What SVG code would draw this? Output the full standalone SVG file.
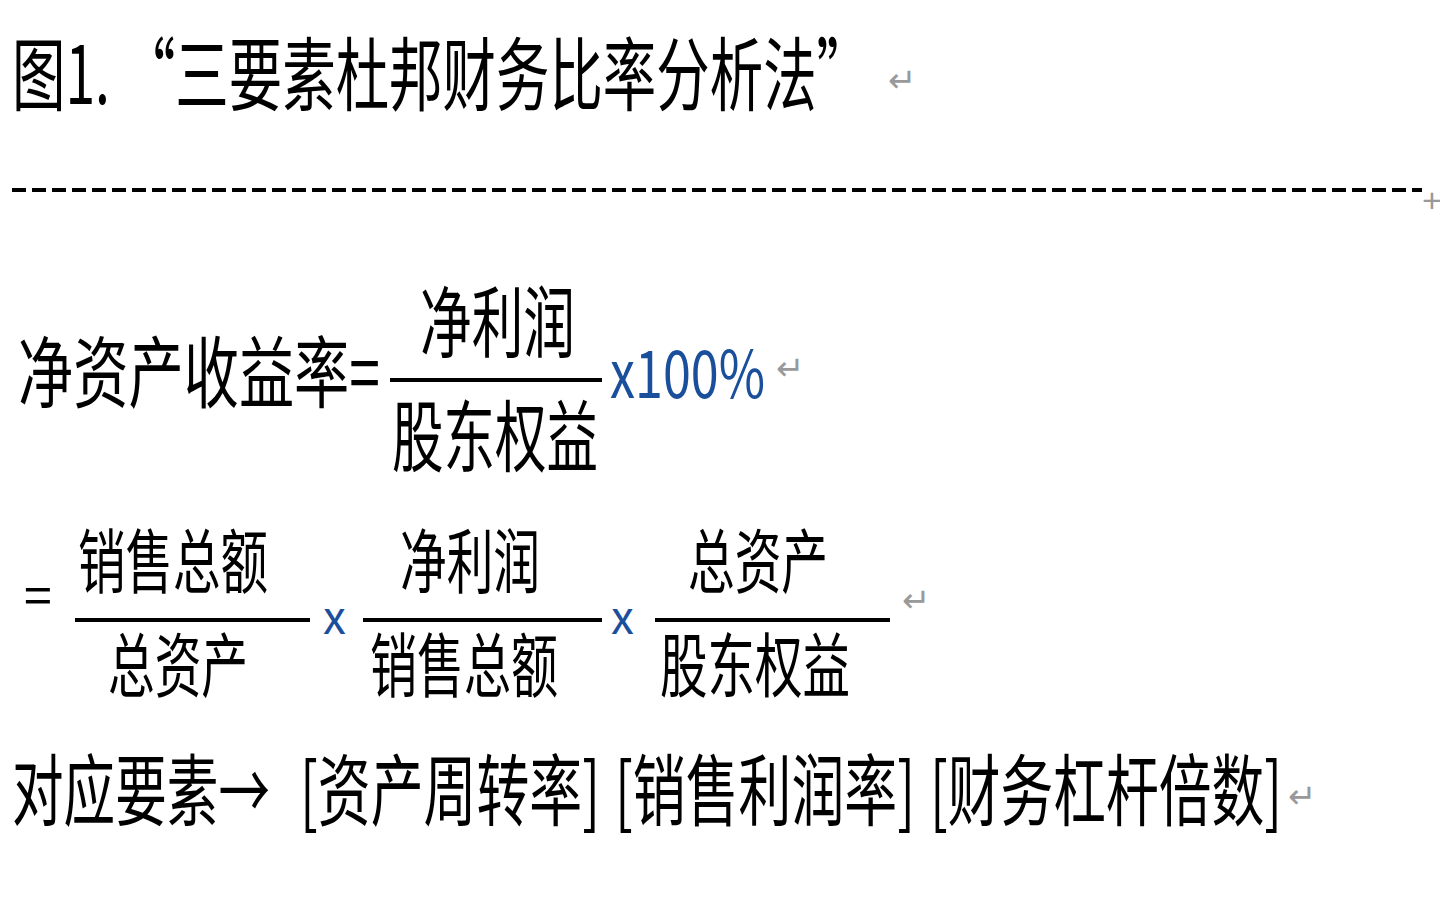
<svg xmlns="http://www.w3.org/2000/svg" width="1440" height="905" viewBox="0 0 1440 905">
<style>
.t{font-family:"Noto Sans CJK SC","Liberation Sans",sans-serif;fill:#000}
.r{font-family:"Liberation Sans",sans-serif;fill:#999;font-size:34px}
.b{fill:#1a4f9c}
.ln{stroke:#000;stroke-width:4}
</style>
<rect width="1440" height="905" fill="#fff"/>
<g id="title">
<text class="t" x="12" y="104" font-size="80" textLength="858" lengthAdjust="spacingAndGlyphs">图1. “三要素杜邦财务比率分析法”</text>
<text class="r" x="888" y="92">↵</text>
</g>
<g id="divider">
<line x1="12" y1="190" x2="1422" y2="190" stroke="#000" stroke-width="4" stroke-dasharray="14,6"/>
<text class="r" x="1422" y="212" font-size="28">+</text>
</g>
<g id="row1">
<text class="t" x="18" y="402" font-size="78" textLength="362" lengthAdjust="spacingAndGlyphs">净资产收益率=</text>
<text class="t" x="420" y="352" font-size="78" textLength="155" lengthAdjust="spacingAndGlyphs">净利润</text>
<line class="ln" x1="390" y1="380" x2="602" y2="380"/>
<text class="t" x="392" y="466" font-size="78" textLength="206" lengthAdjust="spacingAndGlyphs">股东权益</text>
<text class="t b" x="610" y="398" font-size="66" textLength="155" lengthAdjust="spacingAndGlyphs">x100%</text>
<text class="r" x="776" y="380">↵</text>
</g>
<g id="row2">
<text class="t" x="24" y="614" font-size="50">=</text>
<text class="t" x="78" y="588" font-size="70" textLength="190" lengthAdjust="spacingAndGlyphs">销售总额</text>
<line class="ln" x1="75" y1="620" x2="310" y2="620"/>
<text class="t" x="108" y="692" font-size="70" textLength="140" lengthAdjust="spacingAndGlyphs">总资产</text>
<text class="t b" x="323" y="634" font-size="46">x</text>
<text class="t" x="400" y="588" font-size="70" textLength="140" lengthAdjust="spacingAndGlyphs">净利润</text>
<line class="ln" x1="363" y1="620" x2="602" y2="620"/>
<text class="t" x="370" y="692" font-size="70" textLength="188" lengthAdjust="spacingAndGlyphs">销售总额</text>
<text class="t b" x="611" y="634" font-size="46">x</text>
<text class="t" x="688" y="588" font-size="70" textLength="140" lengthAdjust="spacingAndGlyphs">总资产</text>
<line class="ln" x1="655" y1="620" x2="890" y2="620"/>
<text class="t" x="660" y="692" font-size="70" textLength="190" lengthAdjust="spacingAndGlyphs">股东权益</text>
<text class="r" x="902" y="612">↵</text>
</g>
<g id="row3">
<text class="t" x="12" y="820" font-size="78" textLength="258" lengthAdjust="spacingAndGlyphs">对应要素→</text>
<text class="t" x="300" y="820" font-size="78" textLength="300" lengthAdjust="spacingAndGlyphs">[资产周转率]</text>
<text class="t" x="615" y="820" font-size="78" textLength="300" lengthAdjust="spacingAndGlyphs">[销售利润率]</text>
<text class="t" x="930" y="820" font-size="78" textLength="352" lengthAdjust="spacingAndGlyphs">[财务杠杆倍数]</text>
<text class="r" x="1288" y="808">↵</text>
</g>
</svg>
